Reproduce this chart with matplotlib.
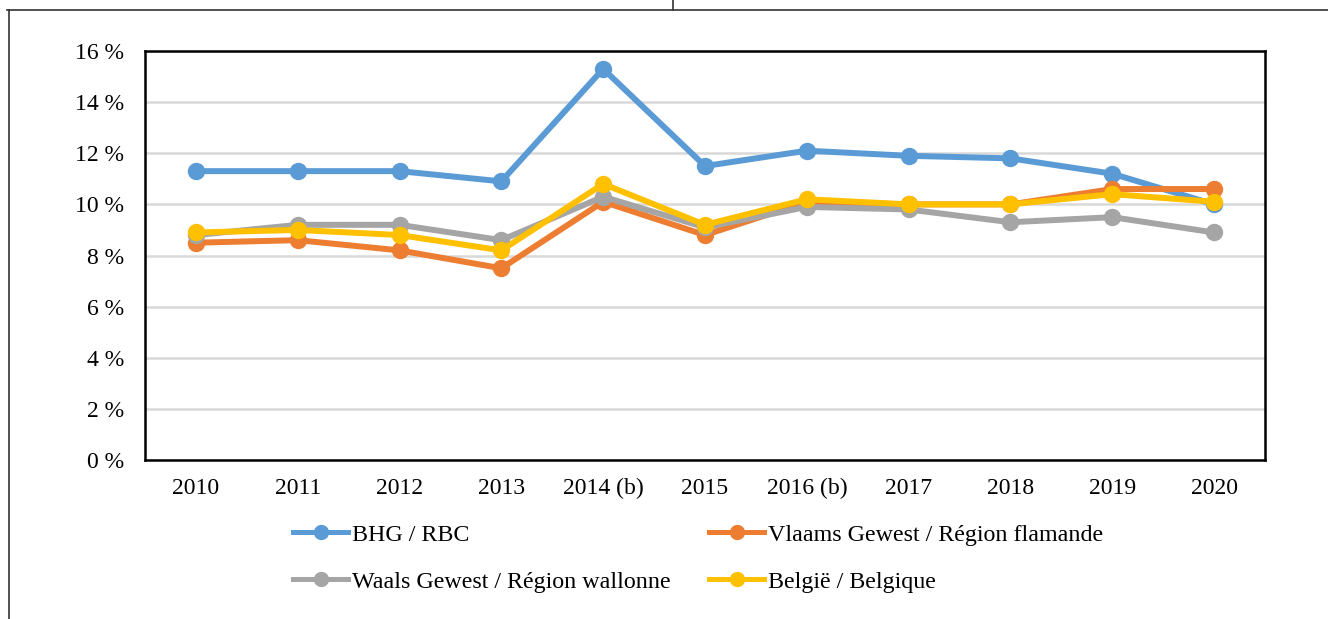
import numpy as np
import matplotlib.pyplot as plt
from matplotlib.lines import Line2D

plt.rcParams['font.family'] = ['Liberation Serif', 'DejaVu Serif']

years = ['2010', '2011', '2012', '2013', '2014 (b)', '2015', '2016 (b)',
         '2017', '2018', '2019', '2020']
bhg = [11.3, 11.3, 11.3, 10.9, 15.3, 11.5, 12.1, 11.9, 11.8, 11.2, 10.0]
vlaams = [8.5, 8.6, 8.2, 7.5, 10.1, 8.8, 10.1, 10.0, 10.0, 10.6, 10.6]
waals = [8.8, 9.2, 9.2, 8.6, 10.3, 9.1, 9.9, 9.8, 9.3, 9.5, 8.9]
belgie = [8.9, 9.0, 8.8, 8.2, 10.8, 9.2, 10.2, 10.0, 10.0, 10.4, 10.1]

names = ['BHG / RBC', 'Vlaams Gewest / Région flamande',
         'Waals Gewest / Région wallonne', 'België / Belgique']
colors = ['#5B9BD5', '#ED7D31', '#A5A5A5', '#FFC000']

fig = plt.figure(figsize=(13.28, 6.19), dpi=100)
ax = fig.add_axes([145 / 1328, 1 - 460 / 619, 1120 / 1328, 409 / 619])

x = np.arange(len(years))
lines = []
for vals, name, c in zip([bhg, vlaams, waals, belgie], names, colors):
    ln, = ax.plot(x, vals, color=c, lw=4.3, marker='o', markersize=11.5,
                  label=name, solid_joinstyle='round')
    lines.append(ln)

ax.set_xlim(-0.5, len(years) - 0.5)
ax.set_ylim(0, 16)
ax.set_yticks(np.arange(0, 17, 2))
ax.set_yticklabels([f'{v} %' for v in range(0, 17, 2)])
ax.set_xticks(x)
ax.set_xticklabels(years)
ax.tick_params(axis='both', length=0, labelsize=17)
ax.tick_params(axis='x', pad=13)
ax.tick_params(axis='y', pad=15)
ax.grid(axis='y', color='#d9d9d9', lw=1.8)
ax.set_axisbelow(True)
for s in ax.spines.values():
    s.set_linewidth(1.8)
    s.set_color('black')

# row-wise legend order like the original
order = [0, 2, 1, 3]
leg = fig.legend([lines[i] for i in order], [names[i] for i in order],
                 loc='upper left', bbox_to_anchor=(293 / 1328, 1 - 524 / 619),
                 ncol=2, frameon=False, fontsize=17.3, handlelength=2.3,
                 columnspacing=1.6, labelspacing=1.05, handletextpad=0.15,
                 borderpad=0, borderaxespad=0)
for h in leg.get_lines():
    h.set_linewidth(3.6)
    h.set_markersize(10)

fig.add_artist(Line2D([7 / 1328, 1], [1 - 10 / 619, 1 - 10 / 619],
                      color='#333333', lw=1.2))
fig.add_artist(Line2D([9 / 1328, 9 / 1328], [0, 1 - 10 / 619],
                      color='#333333', lw=1.2))
fig.add_artist(Line2D([673 / 1328, 673 / 1328], [1 - 10 / 619, 1],
                      color='#333333', lw=1.2))

fig.savefig('out.png', dpi=100)
